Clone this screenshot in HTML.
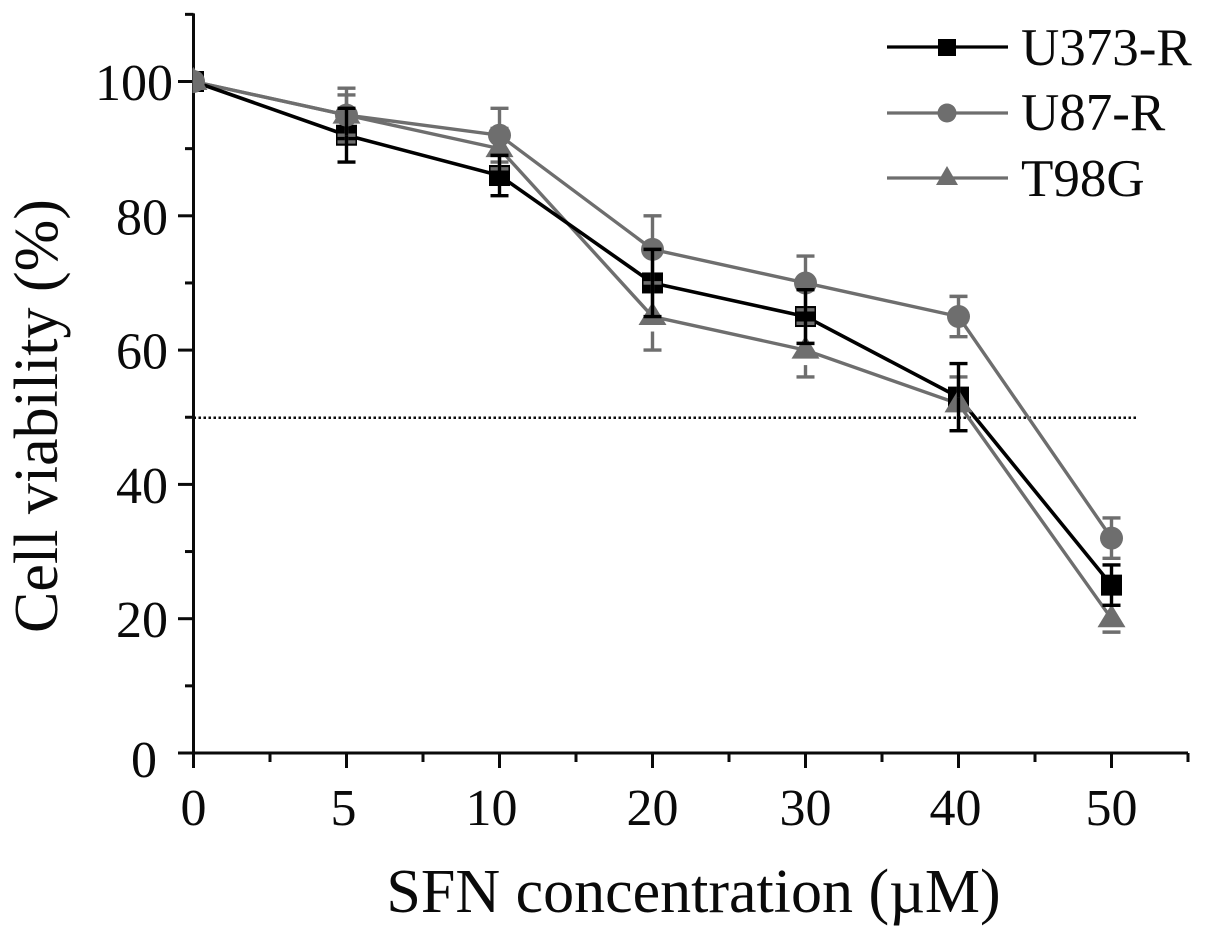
<!DOCTYPE html>
<html lang="en">
<head>
<meta charset="utf-8">
<title>Cell viability chart</title>
<style>
  html, body { margin: 0; padding: 0; background: #fff; }
  svg { display: block; }
  text { font-family: "Liberation Serif", "Times New Roman", serif; fill: #0a0a0a; }
</style>
</head>
<body>
<svg id="chart" xmlns="http://www.w3.org/2000/svg" width="1205" height="938" viewBox="0 0 1205 938">
  <defs>
    <clipPath id="plot-clip"><rect x="192.5" y="0" width="1012" height="938"/></clipPath>
  </defs>
  <rect x="0" y="0" width="1205" height="938" fill="#ffffff"/>
  <g id="axes"></g>
  <g id="marks" clip-path="url(#plot-clip)"></g>
  <text x="693.5" y="912" font-size="62" text-anchor="middle">SFN concentration (µM)</text>
  <text transform="translate(57 416) rotate(-90)" font-size="62" text-anchor="middle">Cell viability (%)</text>
  <g>
    <g>
      <line x1="887" x2="1008" y1="47" y2="47" stroke="#000" stroke-width="3.2"/>
      <rect x="938" y="39" width="18" height="17" fill="#000"/>
      <text x="1021" y="65" font-size="53">U373-R</text>
    </g>
    <g>
      <line x1="887" x2="1008" y1="113" y2="113" stroke="#6e6e6e" stroke-width="3.2"/>
      <circle cx="947" cy="113" r="9.5" fill="#6e6e6e"/>
      <text x="1021" y="130" font-size="53">U87-R</text>
    </g>
    <g>
      <line x1="887" x2="1008" y1="178" y2="178" stroke="#6e6e6e" stroke-width="3.2"/>
      <polygon points="947,166 958,185 936,185" fill="#6e6e6e"/>
      <text x="1021" y="196" font-size="53">T98G</text>
    </g>
  </g>
</svg>
<script>
const categories = ["0", "5", "10", "20", "30", "40", "50"];
const u373Values = [100, 92, 86, 70, 65, 53, 25];
const u87Values = [100, 95, 92, 75, 70, 65, 32];
const t98gValues = [100, 95, 90, 65, 60, 52, 20];
const u373Errors = [0, 4, 3, 5, 4, 5, 3];
const u87Errors = [0, 4, 4, 5, 4, 3, 3];
const t98gErrors = [0, 3, 3, 5, 4, 4, 2];
const yMajorTicks = [0, 20, 40, 60, 80, 100];
const yMinorTicks = [10, 30, 50, 70, 90, 110];
const referenceLevel = [50];

const SVG_NS = "http://www.w3.org/2000/svg";
const BLACK = "#000000";
const GRAY = "#6e6e6e";
const axesLayer = document.getElementById("axes");
const marksLayer = document.getElementById("marks");

function xPos(index) { return 193.5 + index * 153; }
function yPos(value) { return 753 - value * 6.715; }

/* Hand-set label placement in the source figure */
function yLabelRight(value) {
  if (value === 100) return 173;
  if (value === 0) return 157;
  return 168;
}
function yLabelDrop(value) {
  return value === 0 ? 24 : 18.5;
}
function xLabelShift(label) {
  if (label === "10") return -8;
  if (label === "5" || label === "40") return -3;
  return 0;
}

function mk(parent, tag, attrs) {
  const node = document.createElementNS(SVG_NS, tag);
  for (const key in attrs) node.setAttribute(key, attrs[key]);
  parent.appendChild(node);
  return node;
}

/* Axis lines */
const yAxisLine = mk(axesLayer, "line", { x1: 193.5, x2: 193.5, y1: yPos(110) - 1, y2: 768, stroke: "#0a0a0a", "stroke-width": 3 });


const xAxisLine = mk(axesLayer, "line", { x1: 178, x2: xPos(6.5), y1: 753, y2: 753, stroke: "#0a0a0a", "stroke-width": 3 });



/* Y ticks */
yMajorTicks.forEach(function (v) {
  const tick = mk(axesLayer, "line", { x1: 178, x2: 193.5, y1: yPos(v), y2: yPos(v), stroke: "#0a0a0a", "stroke-width": 3 });
  
  
  const label = mk(axesLayer, "text", { x: yLabelRight(v), y: yPos(v) + yLabelDrop(v), "font-size": 52, "text-anchor": "end" });
  label.textContent = String(v);
  
  
});
yMinorTicks.forEach(function (v) {
  const tick = mk(axesLayer, "line", { x1: 185, x2: 193.5, y1: yPos(v), y2: yPos(v), stroke: "#0a0a0a", "stroke-width": 3 });
  
  
});

/* X ticks */
categories.forEach(function (c, i) {
  const tick = mk(axesLayer, "line", { x1: xPos(i), x2: xPos(i), y1: 753, y2: 768, stroke: "#0a0a0a", "stroke-width": 3 });
  
  
  const minor = mk(axesLayer, "line", { x1: xPos(i + 0.5), x2: xPos(i + 0.5), y1: 753, y2: 762, stroke: "#0a0a0a", "stroke-width": 3 });
  
  
  const label = mk(axesLayer, "text", { x: xPos(i) + xLabelShift(c), y: 825, "font-size": 52, "text-anchor": "middle" });
  label.textContent = c;
  
  
});

/* 50% reference line */
const refLine = mk(axesLayer, "line", { x1: xPos(0), x2: 1138, y1: yPos(referenceLevel[0]) + 0.5, y2: yPos(referenceLevel[0]) + 0.5, stroke: "#0a0a0a", "stroke-width": 2.6, "stroke-dasharray": "2.5 2.5" });



function pointsFor(values) {
  return values.map(function (v, i) { return xPos(i) + "," + yPos(v); }).join(" ");
}

/* Connecting lines */
const t98gLine = mk(marksLayer, "polyline", { points: pointsFor(t98gValues), fill: "none", stroke: GRAY, "stroke-width": 3.4 });


const u87Line = mk(marksLayer, "polyline", { points: pointsFor(u87Values), fill: "none", stroke: GRAY, "stroke-width": 3.4 });


const u373Line = mk(marksLayer, "polyline", { points: pointsFor(u373Values), fill: "none", stroke: BLACK, "stroke-width": 3.6 });



/* Error bars: lowerGap leaves the short blank below a symbol seen in the source */
function drawErrors(values, errors, color, lowerGap, name) {
  values.forEach(function (v, i) {
    const e = errors[i];
    if (!e) return;
    const cx = xPos(i);
    const top = yPos(v + e);
    const bottom = yPos(v - e);
    const lowStart = Math.min(yPos(v) + lowerGap, bottom);
    const group = mk(marksLayer, "g", { stroke: color, "stroke-width": 3.4 });
    
    
    mk(group, "line", { x1: cx, x2: cx, y1: top, y2: yPos(v) });
    mk(group, "line", { x1: cx, x2: cx, y1: lowStart, y2: bottom });
    mk(group, "line", { x1: cx - 9, x2: cx + 9, y1: top, y2: top });
    mk(group, "line", { x1: cx - 9, x2: cx + 9, y1: bottom, y2: bottom });
  });
}

/* Symbols */
u373Values.forEach(function (v, i) {
  const square = mk(marksLayer, "rect", { x: xPos(i) - 10.5, y: yPos(v) - 10.5, width: 21, height: 21, fill: BLACK });
  
  
});

drawErrors(t98gValues, t98gErrors, GRAY, 15, 't98g-error-bar');
drawErrors(u87Values, u87Errors, GRAY, 0, 'u87-r-error-bar');

u87Values.forEach(function (v, i) {
  const circle = mk(marksLayer, "circle", { cx: xPos(i), cy: yPos(v), r: 11.5, fill: GRAY });
  
  
});
t98gValues.forEach(function (v, i) {
  const cx = xPos(i);
  const cy = yPos(v);
  const triangle = mk(marksLayer, "polygon", { points: cx + "," + (cy - 14.5) + " " + (cx + 14) + "," + (cy + 8.5) + " " + (cx - 14) + "," + (cy + 8.5), fill: GRAY });
  
  
});

drawErrors(u373Values, u373Errors, BLACK, 0, 'u373-r-error-bar');
</script>
</body>
</html>
